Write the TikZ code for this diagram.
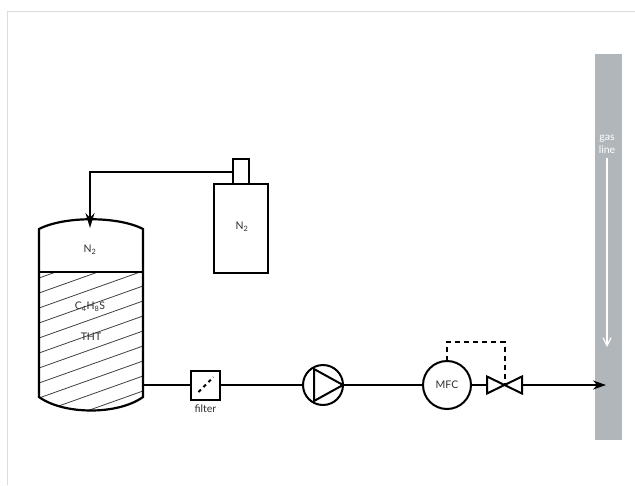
\documentclass[tikz,border=0pt]{standalone}
\usepackage{fontspec}
\setmainfont{Lato}
\usepackage{xcolor}
\usepackage{tikz}
\usetikzlibrary{arrows.meta, positioning}
\definecolor{gasgrey}{HTML}{B1B6BA}
\definecolor{labelgrey}{HTML}{2E2E2E}
\definecolor{framegrey}{HTML}{DADDDF}

\begin{document}
\begin{tikzpicture}[
  x=1pt, y=-1pt,
  part/.style={draw=black, line width=2pt, fill=white, inner sep=0pt, outer sep=0pt},
  pipe/.style={draw=black, line width=2pt},
  signal/.style={draw=black, line width=2pt, dash pattern=on 5pt off 4pt},
  hatchline/.style={draw=black!75, line width=0.8pt},
  label/.style={text=labelgrey, font=\fontsize{10.5}{11}\selectfont, inner sep=0pt},
  flow/.style={-{Stealth[length=13pt, width=9pt]}, pipe},
  feed/.style={-{Stealth[length=15pt, width=9pt]}, pipe}
]
  \useasboundingbox (0,0) rectangle (635,485);
  \draw[framegrey, line width=0.7pt] (7,485) -- (7,11) -- (635,11);

  \node[fill=gasgrey, minimum width=27pt, minimum height=386pt, inner sep=0pt] (gasline) at (608.5,247) {};
  \node[text=white, font=\fontsize{10.5}{13}\selectfont, align=center, inner sep=0pt] (gaslabel) at (607,144) {gas\\line};
  \coordinate (gastop) at (607,158);
  \coordinate (gasend) at (607,347);
  \draw[white, line width=1.2pt, -{Straight Barb[length=8pt, width=8pt]}] (gastop) -- (gasend);

  \begin{scope}
    \clip (39,272) -- (143,272) -- (143,397) .. controls (118,415) and (64,415) .. (39,397) -- cycle;
    \foreach \ystart in {278,293,...,443}
      \draw[hatchline] (39,\ystart) -- (143,\ystart-37);
  \end{scope}
  \draw[line width=2.2pt] (39,229) .. controls (64,216) and (118,216) .. (143,229)
    -- (143,397) .. controls (118,415) and (64,415) .. (39,397) -- cycle;
  \draw[line width=1.4pt] (39,272) -- (143,272);
  \coordinate (tankin) at (90,228);
  \coordinate (tankout) at (143,385);
  \node[label] (tankgas) at (90,250) {N\textsubscript{2}};
  \node[label] (thtformula) at (90,307) {C\textsubscript{4}H\textsubscript{8}S};
  \node[label] (thtname) at (91,337) {THT};

  \node[part, minimum width=54pt, minimum height=89pt] (bottle) at (241,228.5) {};
  \node[label] (bottlegas) at (242,227) {N\textsubscript{2}};
  \node[part, minimum width=16pt, minimum height=25pt, above=0pt of bottle] (bottlehead) {};

  \node[part, minimum size=29pt, at={(205.5,385)}] (filt) {};
  \node[label, below=5pt of filt] (filtlabel) {filter};
  \node[part, circle, minimum size=40pt, right=83pt of filt] (pump) {};
  \node[part, circle, minimum size=48pt, right=80pt of pump, text=labelgrey, font=\fontsize{10.5}{11}\selectfont] (mfc) {MFC};
  \node[minimum width=35pt, minimum height=17pt, inner sep=0pt, outer sep=0pt, right=16pt of mfc] (valve) {};
  \coordinate (gasin) at (606,385);

  \draw[signal, dash pattern=on 3.5pt off 3.5pt] ([xshift=-7pt,yshift=-7pt]filt.center) -- ([xshift=8pt,yshift=8pt]filt.center);
  \draw[pipe] ([xshift=-9pt,yshift=16pt]pump.center) -- ([xshift=20pt]pump.center) -- ([xshift=-9pt,yshift=-16pt]pump.center) -- cycle;
  \draw[pipe] (valve.north west) -- (valve.south east) -- (valve.north east) -- (valve.south west) -- cycle;

  \draw[feed] (bottlehead.west) -| (tankin);
  \draw[pipe] (tankout) -- (filt);
  \draw[pipe] (filt) -- (pump);
  \draw[pipe] (pump) -- (mfc);
  \draw[pipe] (mfc) -- (valve.west);
  \draw[flow] (valve.east) -- (gasin);
  \draw[signal] (mfc.north) -- ++(0,-19) -| (valve.center);
\end{tikzpicture}
\end{document}
